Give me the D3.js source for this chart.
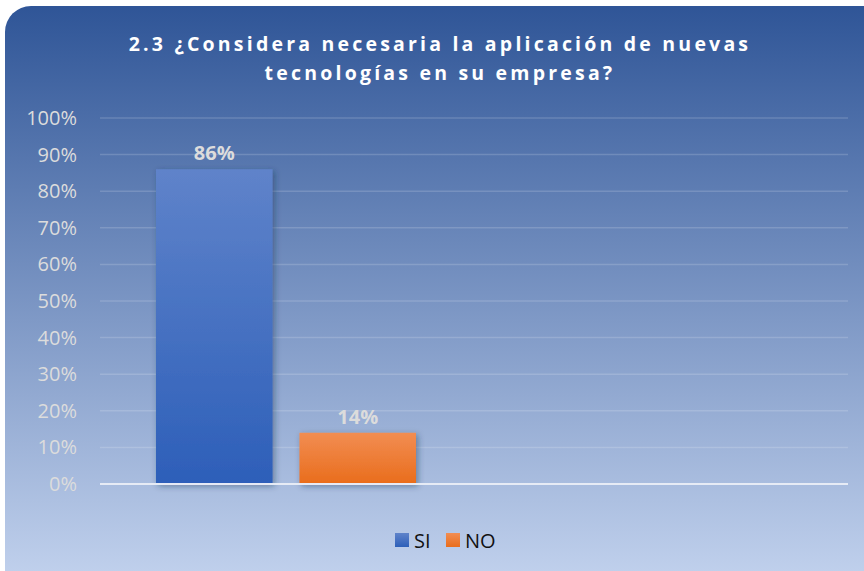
<html>
<head>
  <script src="https://d3js.org/d3.v7.min.js"></script>
  <style>
    body { margin: 0; background: #fff; }
    .tick text { font-family: "Open Sans", sans-serif; }
  </style>
</head>
<body>
  <svg id="chart" width="864" height="571"></svg>
  <script>
    // data
    const series = ["SI", "NO"];
    const values = [0.86, 0.14];
    const labels = ["86%", "14%"];
    const yTicks = [0, 0.1, 0.2, 0.3, 0.4, 0.5, 0.6, 0.7, 0.8, 0.9, 1.0];
    const titleLines = ["2.3 ¿Considera necesaria la aplicación de nuevas", "tecnologías en su empresa?"];
    const colors = { SI: ["#5f83ca", "#2d5fb9"], NO: ["#f28d52", "#e96d1c"] };

    const svg = d3.select("#chart");
    const defs = svg.append("defs");

    const bg = defs.append("linearGradient").attr("id", "bg").attr("x1", 0).attr("y1", 0).attr("x2", 0).attr("y2", 1);
    bg.append("stop").attr("offset", "0%").attr("stop-color", "#2f5597");
    bg.append("stop").attr("offset", "100%").attr("stop-color", "#c8d7f1");

    series.forEach(s => {
      const g = defs.append("linearGradient").attr("id", "g" + s).attr("x1", 0).attr("y1", 0).attr("x2", 0).attr("y2", 1);
      g.append("stop").attr("offset", "0%").attr("stop-color", colors[s][0]);
      g.append("stop").attr("offset", "100%").attr("stop-color", colors[s][1]);
    });

    const shadow = defs.append("filter").attr("id", "shadow").attr("x", "-20%").attr("y", "-20%").attr("width", "140%").attr("height", "140%");
    shadow.append("feDropShadow").attr("dx", 2).attr("dy", 2).attr("stdDeviation", 3)
      .attr("flood-color", "#1f3050").attr("flood-opacity", 0.45);

    // panel
    svg.append("rect")
      .attr("x", 5).attr("y", 6).attr("width", 890).attr("height", 600)
      .attr("rx", 26).attr("fill", "url(#bg)");

    // title
    svg.append("text")
      .attr("x", 440).attr("y", 51)
      .attr("text-anchor", "middle")
      .attr("font-family", "Open Sans, sans-serif")
      .attr("font-weight", "bold")
      .attr("font-size", 19.5)
      .attr("letter-spacing", 3.2)
      .attr("fill", "#ffffff")
      .selectAll("tspan").data(titleLines).join("tspan")
      .attr("x", 440)
      .attr("dy", (d, i) => i === 0 ? 0 : 29)
      .text(d => d);

    // scales
    const y = d3.scaleLinear().domain([0, 1]).range([484, 118]);
    const x = d3.scaleBand().domain(series).range([156, 416]).paddingInner(0.1875);

    // gridlines
    svg.append("g").selectAll("line").data(yTicks.slice(1)).join("line")
      .attr("x1", 100).attr("x2", 848)
      .attr("y1", d => y(d)).attr("y2", d => y(d))
      .attr("stroke", "#ffffff").attr("stroke-opacity", 0.16).attr("stroke-width", 1.5);

    // y axis labels
    const yAxis = d3.axisLeft(y).tickValues(yTicks).tickFormat(d3.format(".0%")).tickSize(0).tickPadding(0);
    const ya = svg.append("g").attr("transform", "translate(77,0)").call(yAxis);
    ya.select(".domain").remove();
    ya.selectAll(".tick text")
      .attr("font-size", 20).attr("fill", "#dcdcdc");

    // bars
    svg.append("g").selectAll("rect").data(series).join("rect")
      .attr("x", d => x(d))
      .attr("y", (d, i) => y(values[i]))
      .attr("width", x.bandwidth())
      .attr("height", (d, i) => y(0) - y(values[i]))
      .attr("fill", d => "url(#g" + d + ")")
      .attr("filter", "url(#shadow)");

    // zero line
    svg.append("line")
      .attr("x1", 100).attr("x2", 848)
      .attr("y1", y(0)).attr("y2", y(0))
      .attr("stroke", "#e6ebf5").attr("stroke-width", 2);

    // data labels
    svg.append("g").selectAll("text").data(series).join("text")
      .attr("x", d => x(d) + x.bandwidth() / 2)
      .attr("y", (d, i) => y(values[i]) - 9)
      .attr("text-anchor", "middle")
      .attr("font-family", "Open Sans, sans-serif")
      .attr("font-weight", "bold")
      .attr("font-size", 20)
      .attr("fill", "#dcdcdc")
      .text((d, i) => labels[i]);

    // legend
    const legend = svg.append("g").attr("transform", "translate(395,533)");
    const items = legend.selectAll("g").data(series).join("g")
      .attr("transform", (d, i) => "translate(" + (i * 51) + ",0)");
    items.append("rect").attr("width", 14).attr("height", 14).attr("fill", d => "url(#g" + d + ")");
    items.append("text")
      .attr("x", 19).attr("y", 14.5)
      .attr("font-family", "Open Sans, sans-serif")
      .attr("font-size", 20)
      .attr("fill", "#111")
      .text(d => d);
  </script>
</body>
</html>
